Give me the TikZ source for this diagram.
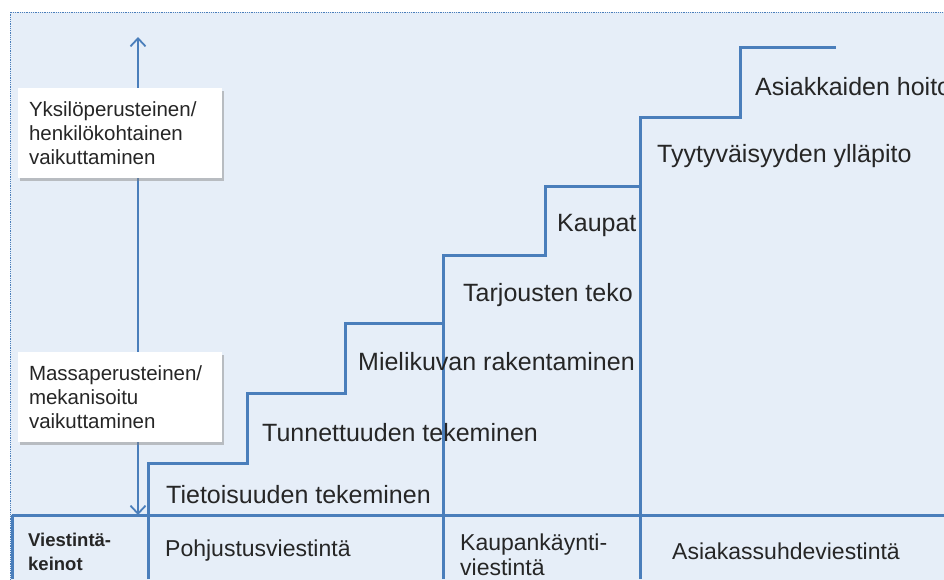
\documentclass[tikz,border=0pt]{standalone}
\usepackage{fontspec}
\setmainfont{Liberation Sans}
\usetikzlibrary{arrows.meta,shadows}
\definecolor{panelblue}{HTML}{E6EEF8}
\definecolor{lineblue}{HTML}{4A7EBB}

\begin{document}
\begin{tikzpicture}
[x=1pt,y=-1pt,stair/.style={draw=lineblue,line width=3pt},grid line/.style={draw=lineblue,line width=3pt},steplabel/.style={anchor=west,inner sep=0pt,font=\fontsize{25}{28}\selectfont,text=black!85},sidebox/.style={fill=white,drop shadow={shadow xshift=2pt,shadow yshift=-3pt,opacity=0.45},minimum width=204pt,minimum height=90pt,text width=182pt,align=left,inner xsep=11pt,font=\fontsize{20.5}{24}\selectfont,text=black!85},rowlabel/.style={anchor=west,inner sep=0pt,align=left,font=\fontsize{23}{25}\selectfont,text=black!85},]
\clip (0,0) rectangle (944,579);
\fill[white] (0,0) rectangle (944,579);
\fill[panelblue] (10,12) rectangle (950,585);
\draw[lineblue,densely dotted,line width=0.8pt] (10,585) |- (950,12);
% vertical scale
\coordinate (scaletop) at (138,37);
\coordinate (scalebot) at (138,515);
\draw[lineblue,line width=1.8pt,{Straight Barb[length=8pt,width=15pt]}-{Straight Barb[length=8pt,width=15pt]}] (scaletop) -- (scalebot);
\node[sidebox] (yksilo) at (120,133) {Yksilöperusteinen/\\henkilökohtainen\\vaikuttaminen};
\node[sidebox] (massa) at (120,397) {Massaperusteinen/\\mekanisoitu\\vaikuttaminen};
% stairs
\draw[stair] (148,579) |- (247,463) |- (345,393) |- (443,323) |- (545,255) |- (640,186) |- (740,117) |- (836,47);
\draw[grid line] (443,323) -- (443,579);
\draw[grid line] (640,186) -- (640,579);
\draw[grid line] (12,515) -- (944,515);
\draw[grid line] (12,515) -- (12,579);
\node[steplabel] (tietoisuus) at (166,495) {Tietoisuuden tekeminen};
\node[steplabel] (tunnettuus) at (262,433) {Tunnettuuden tekeminen};
\node[steplabel] (mielikuva) at (358,362) {Mielikuvan rakentaminen};
\node[steplabel] (tarjous) at (463,295) {Tarjousten teko};
\node[steplabel] (kaupat) at (557,225) {Kaupat};
\node[steplabel] (tyytyvaisyys) at (657,156) {Tyytyväisyyden ylläpito};
\node[steplabel] (hoito) at (755,87) {Asiakkaiden hoito};
% bottom row
\node[rowlabel,font=\fontsize{18.5}{24}\selectfont\bfseries] (keinot) at (28,552) {Viestintä-\\keinot};
\node[rowlabel] (pohjustus) at (165,551) {Pohjustusviestintä};
\node[rowlabel] (kaupankaynti) at (460,555) {Kaupankäynti-\\viestintä};
\node[rowlabel] (asiakassuhde) at (672,551) {Asiakassuhdeviestintä};
\end{tikzpicture}
\end{document}
